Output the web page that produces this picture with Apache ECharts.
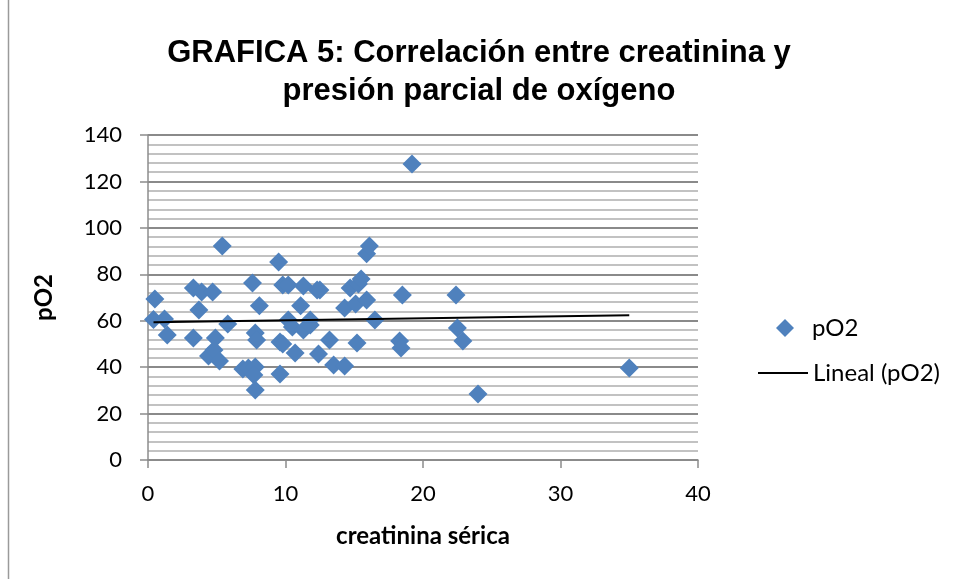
<!DOCTYPE html>
<html>
<head>
<meta charset="utf-8">
<script src="https://cdn.jsdelivr.net/npm/echarts@6/dist/echarts.min.js"></script>
<style>
  html, body { margin: 0; padding: 0; background: #fff; }
  #chart { width: 958px; height: 579px; }
</style>
</head>
<body>
<div id="chart"></div>
<script>
// creatinina sérica (x) y pO2 (y)
const creatinina = [
  0.5, 0.4, 1.2, 1.4, 3.3, 3.9, 3.7, 3.3, 4.7, 4.9,
  4.4, 4.8, 5.2, 5.4, 5.8, 6.9, 7.3, 7.6, 7.8, 7.9,
  7.8, 7.7, 7.8, 8.1, 9.5, 9.6, 9.8, 10.2, 9.6, 9.8,
  10.2, 10.5, 10.7, 11.1, 11.3, 11.3, 11.8, 11.8, 12.3, 12.5,
  12.4, 13.2, 13.5, 14.3, 14.3, 14.7, 15.1, 15.3, 15.5, 15.2,
  15.9, 16.1, 15.9, 16.5, 18.5, 18.3, 18.4, 19.2, 22.4, 22.5,
  22.9, 24.0, 35.0
]
const pO2 = [
  69.4, 60.5, 60.7, 53.9, 74.1, 72.4, 64.6, 52.6, 72.4, 52.6,
  44.8, 47.4, 42.7, 92.2, 58.6, 39.2, 39.6, 76.3, 54.7, 51.7,
  40.1, 36.6, 30.2, 66.4, 85.3, 50.8, 75.4, 75.4, 37.1, 50.0,
  60.3, 57.3, 46.1, 66.4, 75.0, 56.0, 60.3, 58.2, 73.2, 73.2,
  45.7, 51.7, 40.9, 40.5, 65.5, 74.1, 67.2, 75.8, 78.0, 50.4,
  88.8, 92.2, 68.9, 60.3, 71.1, 51.3, 48.3, 127.5, 71.1, 56.9,
  51.3, 28.4, 39.6
]
const xTicks = [0, 10, 20, 30, 40]
const yTicks = [0, 20, 40, 60, 80, 100, 120, 140]

const puntos = creatinina.map((x, i) => [x, pO2[i]])

// línea de tendencia lineal (mínimos cuadrados), como la de Excel
const n = creatinina.length
const mx = creatinina.reduce((a, b) => a + b, 0) / n
const my = pO2.reduce((a, b) => a + b, 0) / n
let sxy = 0, sxx = 0
for (let i = 0; i < n; i++) {
  sxy += (creatinina[i] - mx) * (pO2[i] - my)
  sxx += (creatinina[i] - mx) * (creatinina[i] - mx)
}
const pendiente = sxy / sxx
const corte = my - pendiente * mx
const xMin = Math.min(...creatinina)
const xMax = Math.max(...creatinina)
const tendencia = [[xMin, corte + pendiente * xMin], [xMax, corte + pendiente * xMax]]

const fuente = 'Lato, "Open Sans", sans-serif'

const chart = echarts.init(document.getElementById('chart'))
chart.setOption({
  animation: false,
  backgroundColor: '#fff',
  title: {
    text: 'GRAFICA 5: Correlación entre creatinina y\npresión parcial de oxígeno',
    left: 'center',
    top: 29,
    textStyle: {
      fontFamily: '"Liberation Sans", Arial, sans-serif',
      fontWeight: 'bold',
      fontSize: 31,
      lineHeight: 38,
      color: '#000'
    }
  },
  legend: [
    {
      data: [{ name: 'pO2', icon: 'diamond' }],
      left: 771,
      top: 311,
      itemWidth: 18,
      itemHeight: 18,
      textStyle: { fontFamily: fuente, fontSize: 24, color: '#000', padding: [0, 0, 0, 13] }
    },
    {
      data: [{ name: 'Lineal (pO2)', icon: 'rect' }],
      left: 753,
      top: 356,
      itemWidth: 50,
      itemHeight: 2,
      textStyle: { fontFamily: fuente, fontSize: 24, color: '#000', padding: [0, 0, 0, 0] }
    }
  ],
  grid: { left: 148, right: 260, top: 135, bottom: 119 },
  xAxis: {
    type: 'value',
    min: xTicks[0],
    max: xTicks[xTicks.length - 1],
    interval: 10,
    name: 'creatinina sérica',
    nameLocation: 'middle',
    nameGap: 64,
    nameTextStyle: { fontFamily: fuente, fontSize: 24, fontWeight: 'bold', color: '#000' },
    axisLine: { lineStyle: { color: '#8c8c8c', width: 1.5 } },
    axisTick: { show: true, inside: false, length: 8, lineStyle: { color: '#8c8c8c', width: 1.5 } },
    axisLabel: { fontFamily: fuente, fontSize: 22, color: '#000', margin: 23 },
    splitLine: { show: false }
  },
  yAxis: {
    type: 'value',
    min: yTicks[0],
    max: yTicks[yTicks.length - 1],
    interval: 20,
    name: 'pO2',
    nameLocation: 'middle',
    nameGap: 92,
    nameTextStyle: { fontFamily: fuente, fontSize: 24, fontWeight: 'bold', color: '#000' },
    axisLine: { show: true, lineStyle: { color: '#8c8c8c', width: 1.5 } },
    axisTick: { show: true, inside: false, length: 8, lineStyle: { color: '#8c8c8c', width: 1.5 } },
    axisLabel: { fontFamily: fuente, fontSize: 22, color: '#000', margin: 26 },
    splitLine: { show: true, lineStyle: { color: '#8a8a8a', width: 2 } },
    minorTick: { show: false, splitNumber: 5 },
    minorSplitLine: { show: true, lineStyle: { color: '#c2c2c2', width: 2 } }
  },
  series: [
    {
      name: 'pO2',
      type: 'scatter',
      symbol: 'diamond',
      symbolSize: 19,
      itemStyle: { color: '#4f81bd', opacity: 1 },
      data: puntos,
      z: 3
    },
    {
      name: 'Lineal (pO2)',
      type: 'line',
      symbol: 'none',
      lineStyle: { color: '#000', width: 2 },
      itemStyle: { color: '#000' },
      data: tendencia,
      z: 4
    }
  ],
  graphic: [
    {
      type: 'line',
      shape: { x1: 8.5, y1: 0, x2: 8.5, y2: 579 },
      style: { stroke: '#9a9a9a', lineWidth: 1.5 }
    }
  ]
})
</script>
</body>
</html>
